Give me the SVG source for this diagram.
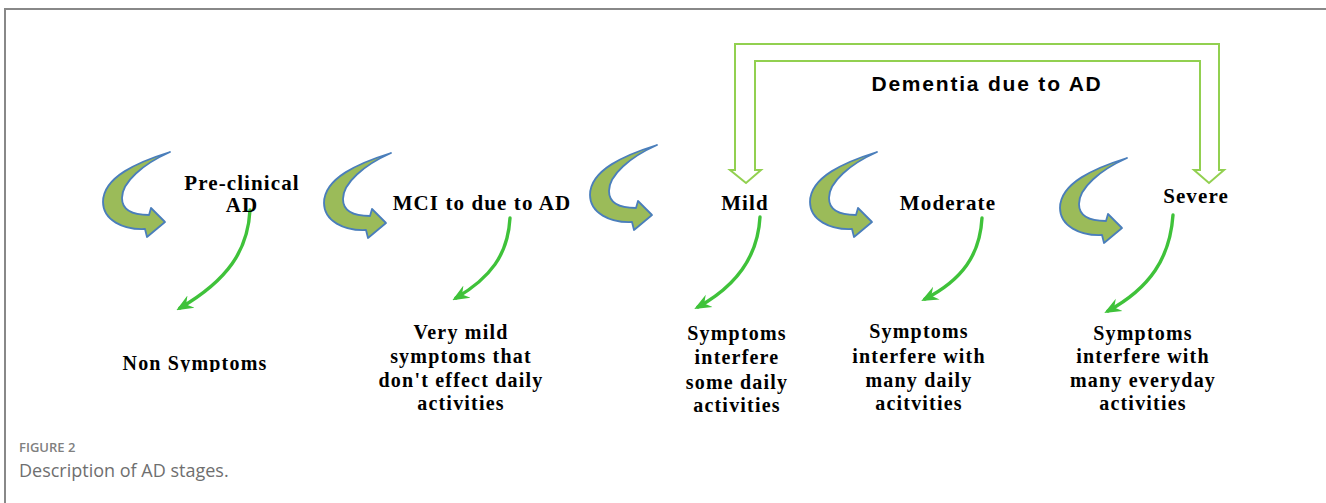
<svg xmlns="http://www.w3.org/2000/svg" width="1326" height="503" viewBox="0 0 1326 503">
<style>
.lbl{font-family:"Liberation Serif","Times New Roman",serif;font-weight:bold;font-size:21px;fill:#000;text-anchor:middle;letter-spacing:1.1px}
.desc{font-family:"Liberation Serif","Times New Roman",serif;font-weight:bold;font-size:20px;fill:#000;text-anchor:middle;letter-spacing:1.2px}
.cur{fill:#9bbb59;stroke:#4a7ebb;stroke-width:1.8;stroke-linejoin:round}
.thin{fill:none;stroke:#3fc23a;stroke-width:3.4;stroke-linecap:round}
.frame{fill:none;stroke:#888;stroke-width:2}
</style>
<defs>
<path id="curved" class="cur" d="M67,0 C35,10 0,25 0,50 C0,68 20,78 42,77 L44,85 L62,70 L48,56 L46,63 C30,63 19,58 19,46 C19,30 40,12 67,0 Z"/>
<marker id="ah" viewBox="0 0 12 10" refX="9" refY="5" markerWidth="5" markerHeight="5" orient="auto" markerUnits="strokeWidth">
<path d="M0,0 L12,5 L0,10 L4,5 Z" fill="#3fc23a"/>
</marker>
<clipPath id="clipNon"><rect x="0" y="0" width="1326" height="372"/></clipPath>
</defs>
<rect width="1326" height="503" fill="#fff"/>
<path class="frame" d="M5,503 L5,9 L1326,9"/>

<g id="connectors">
<path id="bracket" d="M735,170 L735,44 L1219,44 L1219,170 L1224,170 L1209,183 L1194,170 L1200,170 L1200,61 L755,61 L755,170 L761,170 L746,183 L730,170 Z" fill="none" stroke="#92d050" stroke-width="2"/>
<use href="#curved" transform="translate(103,152)"/>
<use href="#curved" transform="translate(324,153)"/>
<use href="#curved" transform="translate(590,145)"/>
<use href="#curved" transform="translate(810,152)"/>
<use href="#curved" transform="translate(1060,158)"/>
<path class="thin" marker-end="url(#ah)" d="M250,210 C248,250 228,280 180,308"/>
<path class="thin" marker-end="url(#ah)" d="M510,218 C508,255 490,278 456,298"/>
<path class="thin" marker-end="url(#ah)" d="M760,217 C758,255 738,285 698,307"/>
<path class="thin" marker-end="url(#ah)" d="M982,218 C980,255 962,280 925,299"/>
<path class="thin" marker-end="url(#ah)" d="M1173,215 C1170,258 1150,288 1108,311"/>
</g>

<g id="dementia">
<text x="987" y="91" font-family="Liberation Sans, Arial, sans-serif" font-weight="bold" font-size="21" letter-spacing="1.8" text-anchor="middle" fill="#000">Dementia due to AD</text>
</g>

<g id="preclinical">
<text class="lbl" x="242" y="190">Pre-clinical</text>
<text class="lbl" x="242" y="212">AD</text>
</g>
<g id="mci">
<text class="lbl" x="482" y="210" letter-spacing="0.4">MCI to due to AD</text>
</g>
<g id="mild">
<text class="lbl" x="745" y="210">Mild</text>
</g>
<g id="moderate">
<text class="lbl" x="948" y="210">Moderate</text>
</g>
<g id="severe">
<text class="lbl" x="1196" y="203">Severe</text>
</g>

<g id="nonsymptoms" clip-path="url(#clipNon)">
<text class="desc" x="195" y="370">Non Symptoms</text>
</g>
<g id="verymild">
<text class="desc" x="461" y="339">Very mild</text>
<text class="desc" x="461" y="363">symptoms that</text>
<text class="desc" x="461" y="387">don't effect daily</text>
<text class="desc" x="461" y="410">activities</text>
</g>
<g id="milddesc">
<text class="desc" x="737" y="340">Symptoms</text>
<text class="desc" x="737" y="364">interfere</text>
<text class="desc" x="737" y="389">some daily</text>
<text class="desc" x="737" y="412">activities</text>
</g>
<g id="moddesc">
<text class="desc" x="919" y="338">Symptoms</text>
<text class="desc" x="919" y="363">interfere with</text>
<text class="desc" x="919" y="387">many daily</text>
<text class="desc" x="919" y="410">acitvities</text>
</g>
<g id="sevdesc">
<text class="desc" x="1143" y="340">Symptoms</text>
<text class="desc" x="1143" y="363">interfere with</text>
<text class="desc" x="1143" y="387">many everyday</text>
<text class="desc" x="1143" y="410">activities</text>
</g>

<g id="caption">
<text x="19" y="452" font-family="Open Sans, sans-serif" font-weight="600" font-size="13" fill="#808080">FIGURE 2</text>
<text x="19" y="477" font-family="Open Sans, sans-serif" font-size="18" fill="#6f6f6f">Description of AD stages.</text>
</g>
</svg>
